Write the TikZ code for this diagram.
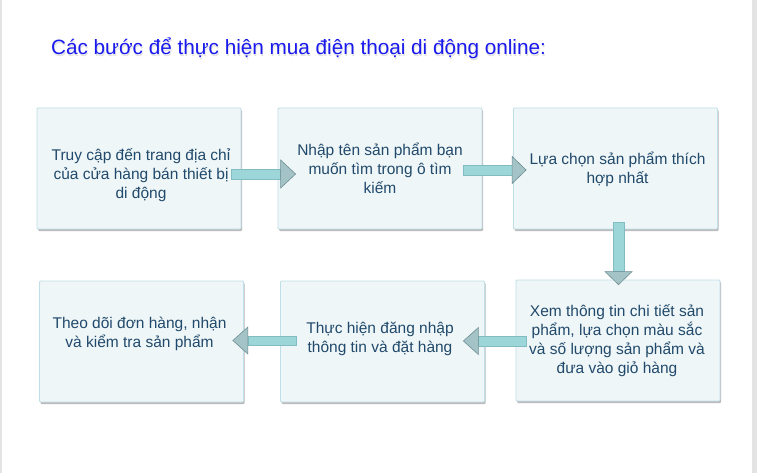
\documentclass[tikz,border=0pt]{standalone}
\usepackage{fontspec}
\setmainfont{Liberation Sans}
\usetikzlibrary{calc,shadows}
\definecolor{boxfill}{HTML}{EEF6F7}
\definecolor{boxline}{HTML}{BEDFE7}
\definecolor{txt}{HTML}{21496B}
\definecolor{shaftfill}{HTML}{9DD6D9}
\definecolor{shaftline}{HTML}{80BCC1}
\definecolor{headfill}{HTML}{A3C3C7}
\definecolor{headline}{HTML}{6E8E94}
\definecolor{titleblue}{HTML}{1A1AEE}
\definecolor{edgegray}{HTML}{E4E4E4}
\tikzset{
  stepbox/.style={draw=boxline, fill=boxfill, line width=0.8pt, inner sep=0pt,
    minimum width=204pt, minimum height=121pt, rounded corners=1pt,
    drop shadow={shadow xshift=1pt, shadow yshift=-2pt, fill=black!45, opacity=0.6}},
  boxtext/.style={text=txt, font=\fontsize{15.5}{19}\selectfont, align=center, anchor=base, inner sep=0pt},
  shaft/.style={fill=shaftfill, draw=shaftline, line width=0.5pt},
  head/.style={fill=headfill, draw=headline, line width=0.6pt, line join=miter},
}
\begin{document}
\begin{tikzpicture}[x=1pt,y=-1pt]
\useasboundingbox (0,0) rectangle (757,473);
\fill[white] (0,0) rectangle (757,473);
\fill[edgegray] (0,0) rectangle (1.5,473);
\fill[edgegray] (752,0) rectangle (757,473);
% title
\node[anchor=base west, inner sep=0pt, text=black!25, opacity=0.45, font=\fontsize{20.7}{25}\selectfont] at (51.8,56.5) {Các bước để thực hiện mua điện thoại di động online:};
\node (title) [anchor=base west, inner sep=0pt, text=titleblue, font=\fontsize{20.7}{25}\selectfont] at (51,55) {Các bước để thực hiện mua điện thoại di động online:};
% boxes
\node (b1) [stepbox] at (139,168.5) {};
\node (b2) [stepbox] at (380,168.5) {};
\node (b3) [stepbox] at (615.5,168.5) {};
\node (b4) [stepbox] at (618,340.5) {};
\node (b5) [stepbox] at (141.5,341.5) {};
\node (b6) [stepbox] at (382.5,341.5) {};
% texts (anchor = baseline of last line)
\node (t1) [boxtext] at (141,198.5) {Truy cập đến trang địa chỉ\\của cửa hàng bán thiết bị\\di động};
\node (t2) [boxtext] at (380,193.5) {Nhập tên sản phẩm bạn\\muốn tìm trong ô tìm\\kiếm};
\node (t3) [boxtext] at (617.5,183.5) {Lựa chọn sản phẩm thích\\hợp nhất};
\node (t4) [boxtext] at (617,373.5) {Xem thông tin chi tiết sản\\phẩm, lựa chọn màu sắc\\và số lượng sản phẩm và\\đưa vào giỏ hàng};
\node (t5) [boxtext] at (139.5,347.5) {Theo dõi đơn hàng, nhận\\và kiểm tra sản phẩm};
\node (t6) [boxtext] at (380,352) {Thực hiện đăng nhập\\thông tin và đặt hàng};
% arrow 1: b1 -> b2
\coordinate (a1s) at ($(b1.east)+(-10,5.5)$);
\coordinate (a1t) at ($(b2.west)+(18,5.5)$);
\draw[shaft] ($(a1s)+(0,-5)$) rectangle ($(a1t)+(-15,5)$);
\draw[head] ($(a1t)+(-15,-14)$) -- (a1t) -- ($(a1t)+(-15,14)$) -- cycle;
% arrow 2: b2 -> b3
\coordinate (a2s) at ($(b2.east)+(-19,1.5)$);
\coordinate (a2t) at ($(b3.west)+(13,1.5)$);
\draw[shaft] ($(a2s)+(0,-5)$) rectangle ($(a2t)+(-14,5)$);
\draw[head] ($(a2t)+(-14,-13.5)$) -- (a2t) -- ($(a2t)+(-14,13.5)$) -- cycle;
% arrow 3: b3 -> b4
\coordinate (a3s) at ($(b3.south)+(3,-7)$);
\coordinate (a3t) at ($(b4.north)+(0.5,5)$);
\draw[shaft] ($(a3s)+(-5.5,0)$) rectangle ($(a3t)+(5.5,-13)$);
\draw[head] ($(a3t)+(-13.5,-13)$) -- (a3t) -- ($(a3t)+(13.5,-13)$) -- cycle;
% arrow 4: b4 -> b6
\coordinate (a4s) at ($(b4.west)+(11,0.5)$);
\coordinate (a4t) at ($(b6.east)+(-21.5,-0.5)$);
\draw[shaft] ($(a4s)+(0,-5)$) rectangle ($(a4t)+(15,5)$);
\draw[head] ($(a4t)+(15,-13.5)$) -- (a4t) -- ($(a4t)+(15,13.5)$) -- cycle;
% arrow 5: b6 -> b5
\coordinate (a5s) at ($(b6.west)+(16,0)$);
\coordinate (a5t) at ($(b5.east)+(-11,-1)$);
\draw[shaft] ($(a5s)+(0,-5)$) rectangle ($(a5t)+(15,5)$);
\draw[head] ($(a5t)+(15,-13.5)$) -- (a5t) -- ($(a5t)+(15,13.5)$) -- cycle;
\end{tikzpicture}
\end{document}
